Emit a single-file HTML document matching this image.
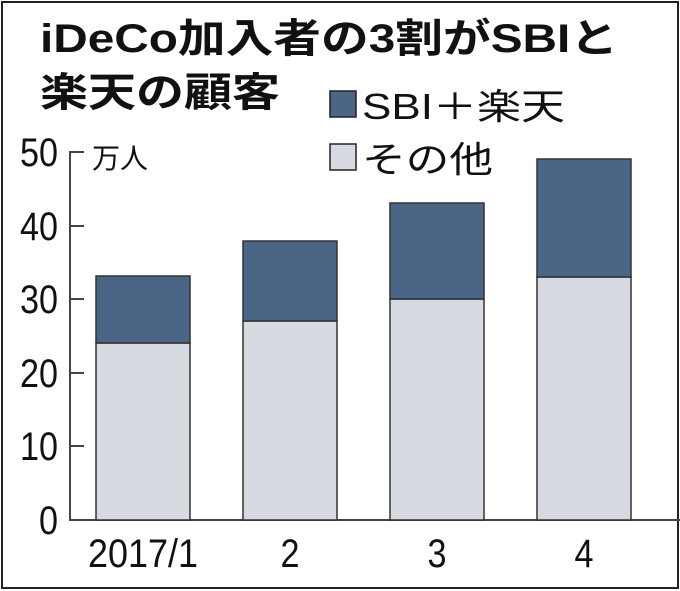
<!DOCTYPE html><html><head><meta charset="utf-8"><style>
body{margin:0;background:#fff}
svg{display:block}
text{font-family:"Liberation Sans","Noto Sans CJK JP",sans-serif;fill:#111}
</style></head><body>
<svg width="680" height="591" viewBox="0 0 680 591">
<rect x="2" y="2" width="676" height="586" fill="#fff" stroke="#222" stroke-width="2"/>
<text x="40" y="52" font-size="40" font-weight="bold" textLength="578" lengthAdjust="spacingAndGlyphs">iDeCo加入者の3割がSBIと</text>
<text x="40" y="106" font-size="40" font-weight="bold" textLength="240" lengthAdjust="spacingAndGlyphs">楽天の顧客</text>
<rect x="330" y="91" width="26" height="26" fill="#4a6585" stroke="#222" stroke-width="1.5"/>
<text x="362" y="119" font-size="36" textLength="203" lengthAdjust="spacingAndGlyphs">SBI＋楽天</text>
<rect x="330" y="144" width="26" height="26" fill="#d8dae2" stroke="#222" stroke-width="1.5"/>
<text x="362" y="172" font-size="36" textLength="131" lengthAdjust="spacingAndGlyphs">その他</text>
<g stroke="#444" stroke-width="2" fill="none">
<path d="M84 152H70V520H680"/>
<path d="M70 226H84M70 299H84M70 373H84M70 446H84"/>
</g>
<g font-size="40" text-anchor="end">
<text x="58" y="166" textLength="38" lengthAdjust="spacingAndGlyphs">50</text><text x="58" y="240" textLength="38" lengthAdjust="spacingAndGlyphs">40</text><text x="58" y="313" textLength="38" lengthAdjust="spacingAndGlyphs">30</text><text x="58" y="387" textLength="38" lengthAdjust="spacingAndGlyphs">20</text><text x="58" y="460" textLength="38" lengthAdjust="spacingAndGlyphs">10</text><text x="58" y="534" textLength="19" lengthAdjust="spacingAndGlyphs">0</text>
</g>
<text x="92" y="168" font-size="28">万人</text>
<g stroke="#333" stroke-width="1.5">
<rect x="96" y="343" width="94" height="177" fill="#d8dae2"/><rect x="96" y="276" width="94" height="67" fill="#4a6585"/>
<rect x="243" y="321" width="94" height="199" fill="#d8dae2"/><rect x="243" y="241" width="94" height="80" fill="#4a6585"/>
<rect x="390" y="299" width="94" height="221" fill="#d8dae2"/><rect x="390" y="203" width="94" height="96" fill="#4a6585"/>
<rect x="537" y="277" width="94" height="243" fill="#d8dae2"/><rect x="537" y="159" width="94" height="118" fill="#4a6585"/>
</g>
<g font-size="40" text-anchor="middle">
<text x="143" y="567" textLength="110" lengthAdjust="spacingAndGlyphs">2017/1</text><text x="290" y="567" textLength="19" lengthAdjust="spacingAndGlyphs">2</text><text x="437" y="567" textLength="19" lengthAdjust="spacingAndGlyphs">3</text><text x="584" y="567" textLength="19" lengthAdjust="spacingAndGlyphs">4</text>
</g>
</svg>
</body></html>
